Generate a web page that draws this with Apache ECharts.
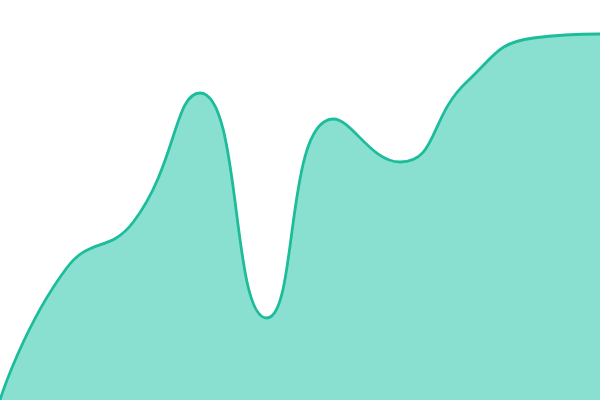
<!DOCTYPE html>
<html><head><meta charset="utf-8">
<script src="https://cdn.jsdelivr.net/npm/echarts@6/dist/echarts.min.js"></script>
<style>html,body{margin:0;padding:0;background:#fff}#c{width:600px;height:400px}</style>
</head><body><div id="c"></div>
<script>
const categories = ['1','2','3','4','5','6','7','8','9','10'];
const values = [0, 132, 178, 307, 82, 281, 238, 318, 362, 366];
const chart = echarts.init(document.getElementById('c'));
chart.setOption({
  animation: false,
  grid: {left: 0, right: 0, top: 0, bottom: 0},
  xAxis: {type: 'category', data: categories, boundaryGap: false, show: false},
  yAxis: {type: 'value', min: 0, max: 400, show: false},
  series: [{
    type: 'line', data: values, smooth: true, symbol: 'none',
    lineStyle: {color: '#1dbc9b', width: 2.8},
    areaStyle: {color: '#8ae0d0', opacity: 1}
  }]
});
</script></body></html>
